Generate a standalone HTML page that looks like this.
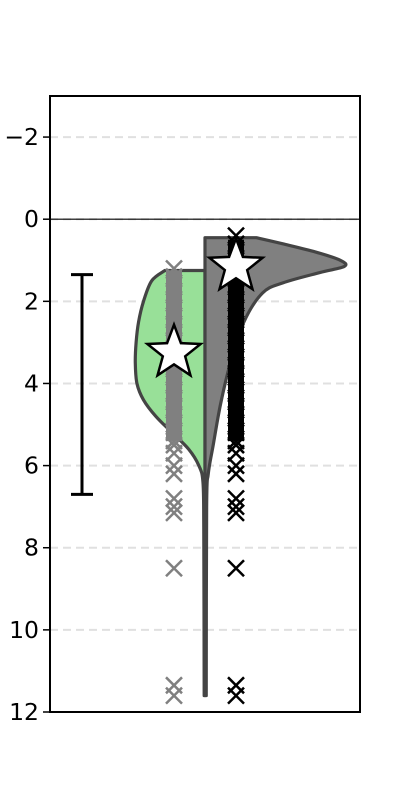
<!DOCTYPE html>
<html><head><meta charset="utf-8"><style>
html,body{margin:0;padding:0;background:#fff;width:400px;height:800px;overflow:hidden}
svg text{font-family:"DejaVu Sans","Liberation Sans",sans-serif}
</style></head><body>
<svg id="chart" width="400" height="800" viewBox="0 0 400 800" xmlns="http://www.w3.org/2000/svg"></svg>
<script>
const yTicks=[-2,0,2,4,6,8,10,12];
const yMin=-3, yMax=12;
const leftProfile=[[1.25,0.98],[1.5,1.3],[2.0,1.5],[2.5,1.62],[3.0,1.68],[3.5,1.7],[4.0,1.66],[4.4,1.5],[4.8,1.2],[5.2,0.8],[5.6,0.4],[6.0,0.15],[6.4,0.05],[7.5,0.03],[11.6,0.02]];
const rightProfile=[[0.45,1.25],[0.6,1.9],[0.8,2.7],[1.0,3.3],[1.15,3.4],[1.3,2.8],[1.55,1.9],[1.8,1.4],[2.5,0.95],[3.5,0.62],[4.5,0.38],[5.5,0.2],[6.2,0.08],[7,0.04],[11.6,0.03]];
const greyPoints=[1.2,1.4,1.6,1.8,2,2.2,2.4,2.6,2.8,3,3.2,3.4,3.6,3.8,4,4.2,4.4,4.6,4.8,5,5.2,5.4,5.5,5.7,6.0,6.2,6.8,7.0,7.15,8.5,11.35,11.6];
const blackPoints=[0.4,0.6,0.8,1,1.2,1.4,1.6,1.8,2,2.2,2.4,2.6,2.8,3,3.2,3.4,3.6,3.8,4,4.2,4.4,4.6,4.8,5,5.2,5.4,5.5,5.7,6.0,6.2,6.8,7.0,7.15,8.5,11.35,11.6];
const means=[3.25,1.15];
const errLow=1.35, errHigh=6.7;

const svg=document.getElementById('chart');
const NS='http://www.w3.org/2000/svg';
const L=50,R=360,T=96,B=712;
const Y=v=>T+(v-yMin)/(yMax-yMin)*(B-T);
const CX=205, W=41;
function mk(tag,attrs,parent){const e=document.createElementNS(NS,tag);for(const k in attrs)e.setAttribute(k,attrs[k]);(parent||svg).appendChild(e);return e;}

yTicks.forEach(t=>{
  const g=mk('line',{x1:L,x2:R,y1:Y(t),y2:Y(t),stroke:'#e0e0e0','stroke-width':2,'stroke-dasharray':'8,5'});
  
  
});
const z=mk('line',{x1:L,x2:R,y1:Y(0),y2:Y(0),stroke:'#000','stroke-width':1.2});



function halfPath(prof,dir){
  const pts=prof.map(p=>[CX+dir*p[1]*W,Y(p[0])]);
  let d=`M${CX},${pts[0][1]} L${pts[0][0]},${pts[0][1]}`;
  for(let i=0;i<pts.length-1;i++){
    const p0=pts[Math.max(0,i-1)],p1=pts[i],p2=pts[i+1],p3=pts[Math.min(pts.length-1,i+2)];
    const c1=[p1[0]+(p2[0]-p0[0])/6,p1[1]+(p2[1]-p0[1])/6];
    const c2=[p2[0]-(p3[0]-p1[0])/6,p2[1]-(p3[1]-p1[1])/6];
    d+=` C${c1[0]},${c1[1]} ${c2[0]},${c2[1]} ${p2[0]},${p2[1]}`;
  }
  d+=` L${CX},${pts[pts.length-1][1]} Z`;
  return d;
}
const gv=mk('path',{d:halfPath(leftProfile,-1),fill:'#98e098',stroke:'#444','stroke-width':3.2,'stroke-linejoin':'round'});


const rv=mk('path',{d:halfPath(rightProfile,1),fill:'#808080',stroke:'#444','stroke-width':3.2,'stroke-linejoin':'round'});



function xmark(x,v,color,name){
  const s=8,y=Y(v);
  const p=mk('path',{d:`M${x-s},${y-s}L${x+s},${y+s}M${x-s},${y+s}L${x+s},${y-s}`,stroke:color,'stroke-width':2.5,fill:'none'});
  
  
}
const gs=mk('rect',{x:166,y:Y(1.25),width:16,height:Y(5.4)-Y(1.25),fill:'#808080'});


const bs=mk('rect',{x:228,y:Y(0.5),width:16,height:Y(5.4)-Y(0.5),fill:'#000'});


greyPoints.forEach(v=>xmark(174,v,'#808080','grey-point'));
blackPoints.forEach(v=>xmark(236,v,'#000','black-point'));

function star(cx,cy,r,name){
  let d='';
  for(let i=0;i<10;i++){const a=-Math.PI/2+i*Math.PI/5;const rr=i%2?r*0.42:r;d+=(i?'L':'M')+(cx+rr*Math.cos(a))+','+(cy+rr*Math.sin(a));}
  const p=mk('path',{d:d+'Z',fill:'#fff',stroke:'#000','stroke-width':2.5,'stroke-linejoin':'miter'});
  
  
}
star(174,Y(means[0]),28,'mean-star-green');
star(236,Y(means[1]),28,'mean-star-grey');

const eb=mk('path',{d:`M82,${Y(errLow)}V${Y(errHigh)}M71,${Y(errLow)}H93M71,${Y(errHigh)}H93`,stroke:'#000','stroke-width':3,fill:'none'});



const fr=mk('rect',{x:L,y:T,width:R-L,height:B-T,fill:'none',stroke:'#000','stroke-width':2});


yTicks.forEach(t=>{
  const tk=mk('line',{x1:L-7,x2:L,y1:Y(t),y2:Y(t),stroke:'#000','stroke-width':1.5});
  
  
  const tx=mk('text',{x:L-11,y:Y(t)+8,'text-anchor':'end','font-size':23.5,fill:'#000'});
  tx.textContent=t<0?'\u2212'+Math.abs(t):String(t);
  
  
});
</script>
</body></html>
